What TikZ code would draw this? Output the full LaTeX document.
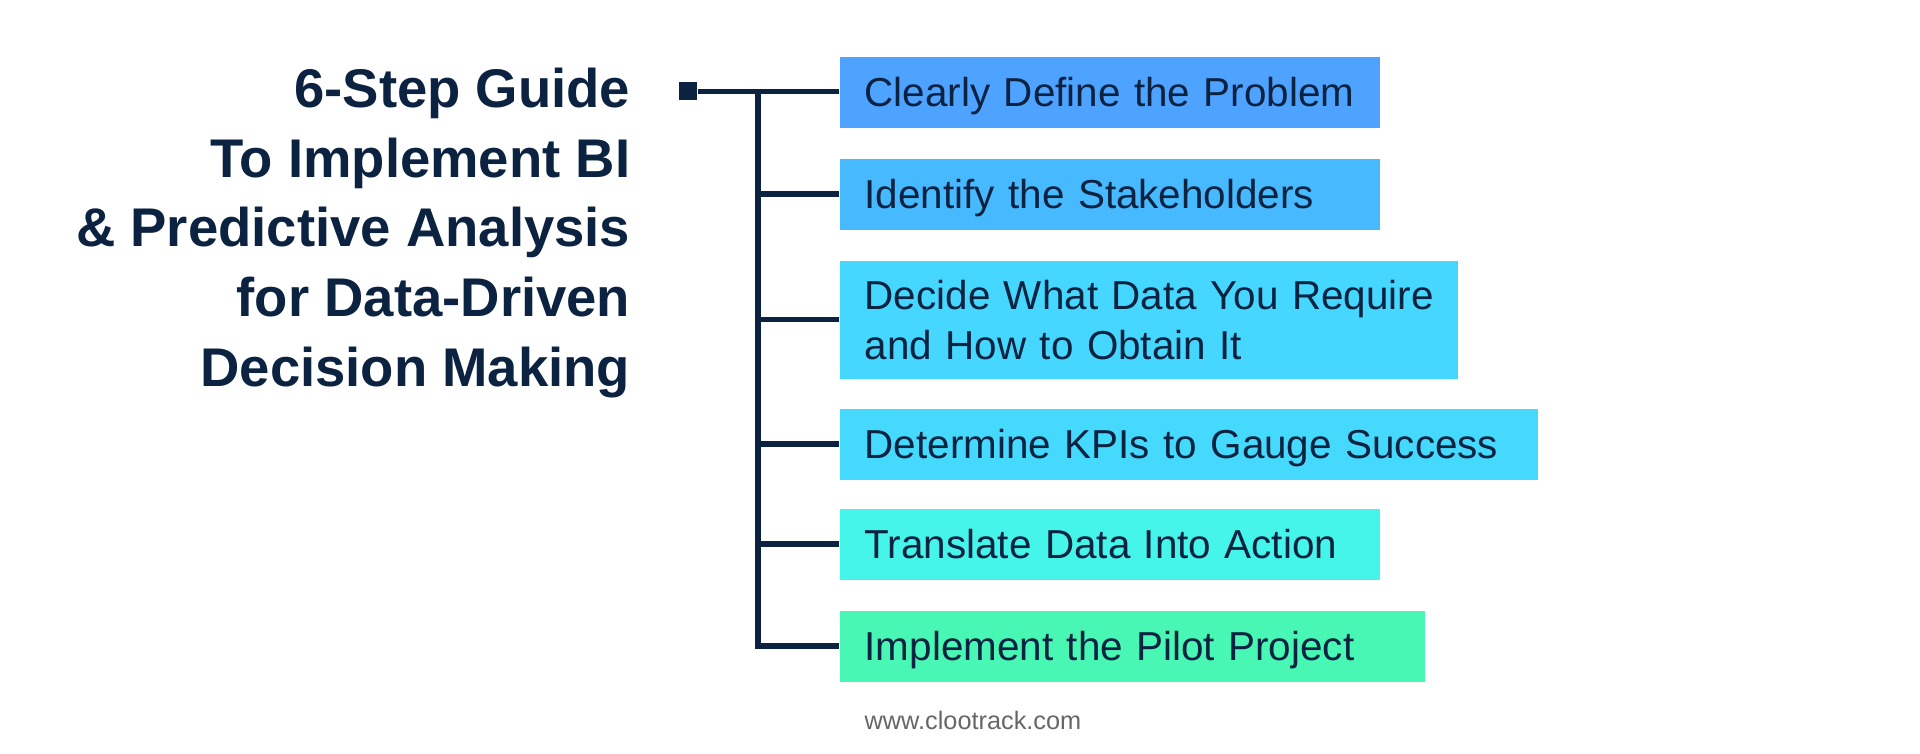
\documentclass[tikz,border=0pt]{standalone}
\usepackage{fontspec}
\setmainfont{Liberation Sans}
\definecolor{navy}{HTML}{0B2240}
\definecolor{stepA}{HTML}{4DA3FF}
\definecolor{stepB}{HTML}{47B9FF}
\definecolor{stepC}{HTML}{45D7FF}
\definecolor{stepD}{HTML}{45D9FD}
\definecolor{stepE}{HTML}{46F5EA}
\definecolor{stepF}{HTML}{48F7B4}
\definecolor{footgray}{HTML}{666666}
\tikzset{
  stepbox/.style={fill=#1, anchor=north west, inner xsep=2.5mm, inner ysep=0pt,
    minimum height=7.1mm, align=left, text=navy, font=\fontsize{11.5}{14.2}\selectfont,
    execute at begin node={\hyphenpenalty=10000}},
  oneline/.style={text height=8.2pt, text depth=0pt},
  headline/.style={anchor=east, inner sep=0pt, align=right, text=navy,
    font=\bfseries\fontsize{15.5}{19.9}\selectfont},
  link/.style={draw=navy, line width=0.55mm},
}
\begin{document}
\begin{tikzpicture}[x=0.1mm, y=-0.1mm]
  \useasboundingbox[fill=white] (0,0) rectangle (1920,754);
  % title
  \node[headline] (head) at (631,233) {6-Step Guide\\To Implement BI\\\& Predictive Analysis\\for Data-Driven\\Decision Making};
  % steps
  \node[stepbox=stepA, oneline, text width=49mm] (s1) at (839,56) {Clearly Define the Problem};
  \node[stepbox=stepB, oneline, text width=49mm] (s2) at (839,158) {Identify the Stakeholders};
  \node[stepbox=stepC, text width=56.8mm, minimum height=11.8mm] (s3) at (839,260) {Decide~What~Data~You~Require\\and How to Obtain It};
  \node[stepbox=stepD, oneline, text width=64.8mm] (s4) at (839,408) {Determine KPIs to Gauge Success};
  \node[stepbox=stepE, oneline, text width=49mm] (s5) at (839,508) {Translate Data Into Action};
  \node[stepbox=stepF, oneline, text width=53.5mm] (s6) at (839,610) {Implement the Pilot Project};
  % tree
  \node[fill=navy, minimum size=1.8mm, inner sep=0pt] (root) at (688,91.5) {};
  \coordinate (trunk) at (758,91.5);
  \draw[link] (root) -- (root -| s1.west);
  \draw[link] (trunk) |- (s6.west);
  \foreach \i in {2,...,5} {\draw[link] (trunk |- s\i.west) -- (s\i.west);}
  % footer
  \node[anchor=west, inner sep=0pt, text=footgray, font=\fontsize{7.2}{8.6}\selectfont] (site) at (864,720) {www.clootrack.com};
\end{tikzpicture}
\end{document}
